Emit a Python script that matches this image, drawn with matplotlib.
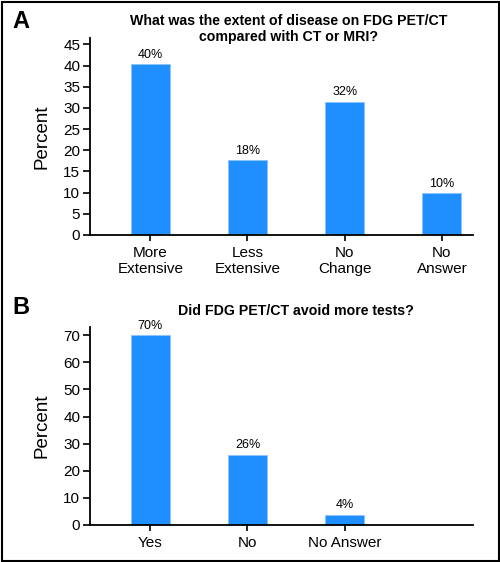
import matplotlib
matplotlib.use("Agg")
import matplotlib.pyplot as plt
from matplotlib.patches import Rectangle

plt.rcParams['font.family'] = ['Liberation Sans', 'DejaVu Sans']

# Data
cats_a = ["More\nExtensive", "Less\nExtensive", "No\nChange", "No\nAnswer"]
vals_a = [40.3, 17.6, 31.5, 9.9]
labels_a = ["40%", "18%", "32%", "10%"]
title_a = "What was the extent of disease on FDG PET/CT\ncompared with CT or MRI?"

cats_b = ["Yes", "No", "No Answer"]
vals_b = [70, 25.8, 3.7]
labels_b = ["70%", "26%", "4%"]
title_b = "Did FDG PET/CT avoid more tests?"

BAR = '#1F8FFF'
W, H = 500, 562
fig = plt.figure(figsize=(W/100, H/100), dpi=100)

def style(ax, ylim, yticks):
    ax.set_ylim(*ylim)
    ax.set_yticks(yticks)
    ax.set_xlim(-0.62, 3.32)
    for s in ['top', 'right']:
        ax.spines[s].set_visible(False)
    for s in ['left', 'bottom']:
        ax.spines[s].set_linewidth(1.3)
    ax.tick_params(axis='y', direction='out', length=5, width=1.2, labelsize=11, pad=2)
    ax.tick_params(axis='x', direction='out', length=4, width=1.2, labelsize=11, pad=4)
    ax.set_ylabel("Percent", fontsize=13.5, labelpad=9)

axA = fig.add_axes([90/W, 1-235/H, 383/W, 197/H])
xa = list(range(len(cats_a)))
axA.bar(xa, vals_a, width=0.4, color=BAR, edgecolor='#8CC4FF', linewidth=0.6)
for x, v, l in zip(xa, vals_a, labels_a):
    axA.text(x, v + 0.8, l, ha='center', va='bottom', fontsize=9)
axA.set_xticks(xa)
axA.set_xticklabels(cats_a, linespacing=1.15)
style(axA, (0, 46.5), range(0, 50, 5))

axB = fig.add_axes([90/W, 1-525/H, 383/W, 198/H])
xb = list(range(len(cats_b)))
axB.bar(xb, vals_b, width=0.4, color=BAR, edgecolor='#8CC4FF', linewidth=0.6)
for x, v, l in zip(xb, vals_b, labels_b):
    axB.text(x, v + 1.3, l, ha='center', va='bottom', fontsize=9)
axB.set_xticks(xb)
axB.set_xticklabels(cats_b)
style(axB, (0, 73), range(0, 80, 10))

fig.text(289/W, 1-29/H, title_a, ha='center', va='center', fontsize=10.2,
         fontweight='bold', linespacing=1.25)
fig.text(296/W, 1-311/H, title_b, ha='center', va='center', fontsize=10.2,
         fontweight='bold')
fig.text(12/W, 1-22/H, "A", ha='left', va='center', fontsize=17, fontweight='bold')
fig.text(12/W, 1-307/H, "B", ha='left', va='center', fontsize=17, fontweight='bold')

fig.patches.append(Rectangle((1.5/W, 1.5/H), 1-3/W, 1-3/H, transform=fig.transFigure,
                             fill=False, edgecolor='black', linewidth=1.5))

fig.savefig("out.png", dpi=100)
